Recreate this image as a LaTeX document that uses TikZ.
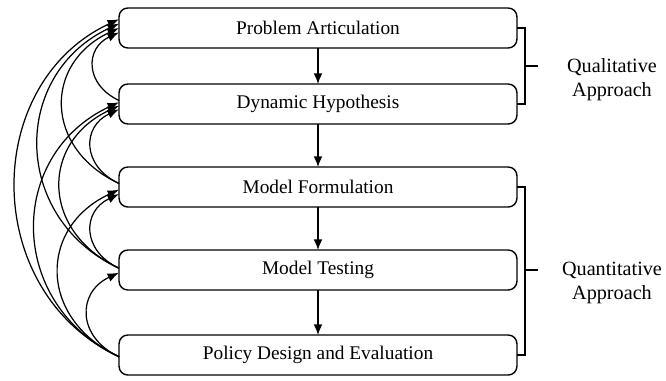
\documentclass[tikz,border=0pt]{standalone}
\usepackage{fontspec}
\setmainfont{Liberation Serif}
\usetikzlibrary{arrows.meta}
\begin{document}
\begin{tikzpicture}[x=0.02cm,y=0.02cm,
  stage/.style={draw, line width=0.8pt, rounded corners=5pt, minimum width=7.96cm, minimum height=0.8cm, inner sep=0pt, outer sep=0pt, font=\fontsize{11}{13.6}\selectfont},
  flow/.style={-{Latex[length=6pt,width=5pt]}, line width=0.8pt},
  fb/.style={-{Latex[length=6.5pt,width=5pt]}, line width=0.7pt, out=155, in=205},
  brk/.style={line width=0.7pt},
  lbl/.style={align=center, font=\fontsize{11.5}{13.6}\selectfont}]
\useasboundingbox (0,0) rectangle (666,380);
\node[stage] (b1) at (318,352) {Problem Articulation};
\node[stage] (b2) at (318,276) {Dynamic Hypothesis};
\node[stage] (b3) at (318,193) {Model Formulation};
\node[stage] (b4) at (318,110) {Model Testing};
\node[stage] (b5) at (318,25) {Policy Design and Evaluation};
\draw[flow] (b1) -- (b2);
\draw[flow] (b2) -- (b3);
\draw[flow] (b3) -- (b4);
\draw[flow] (b4) -- (b5);
% feedback arcs
\draw[fb, looseness=1.42] ([yshift=2pt]b2.west) to ([yshift=-2.5pt]b1.west);
\draw[fb, looseness=1.37] ([yshift=2pt]b3.west) to ([yshift=0pt]b1.west);
\draw[fb, looseness=1.25] ([yshift=1pt]b4.west) to ([yshift=2.5pt]b1.west);
\draw[fb, looseness=1.16] ([yshift=-1pt]b5.west) to ([yshift=5pt]b1.west);
\draw[fb, looseness=1.42] ([yshift=2pt]b3.west) to ([yshift=-3pt]b2.west);
\draw[fb, looseness=1.37] ([yshift=1pt]b4.west) to ([yshift=-1pt]b2.west);
\draw[fb, looseness=1.25] ([yshift=-1pt]b5.west) to ([yshift=1pt]b2.west);
\draw[fb, looseness=1.42] ([yshift=1pt]b4.west) to ([yshift=-4pt]b3.west);
\draw[fb, looseness=1.37] ([yshift=-1pt]b5.west) to ([yshift=-1.5pt]b3.west);
\draw[fb, looseness=1.42] ([yshift=-1pt]b5.west) to ([yshift=-1.5pt]b4.west);
% brackets
\coordinate (q1) at (525,314);
\coordinate (q2) at (525,110);
\draw[brk] (b1.east) -| (q1) |- (b2.east);
\draw[brk] (q1) -- ++(13,0);
\draw[brk] (b3.east) -| (q2) |- (b5.east);
\draw[brk] (q2) -- ++(13,0);
\node[lbl] (ql) at (612,300) {Qualitative\\Approach};
\node[lbl] (qn) at (612,97) {Quantitative\\Approach};
\end{tikzpicture}
\end{document}
